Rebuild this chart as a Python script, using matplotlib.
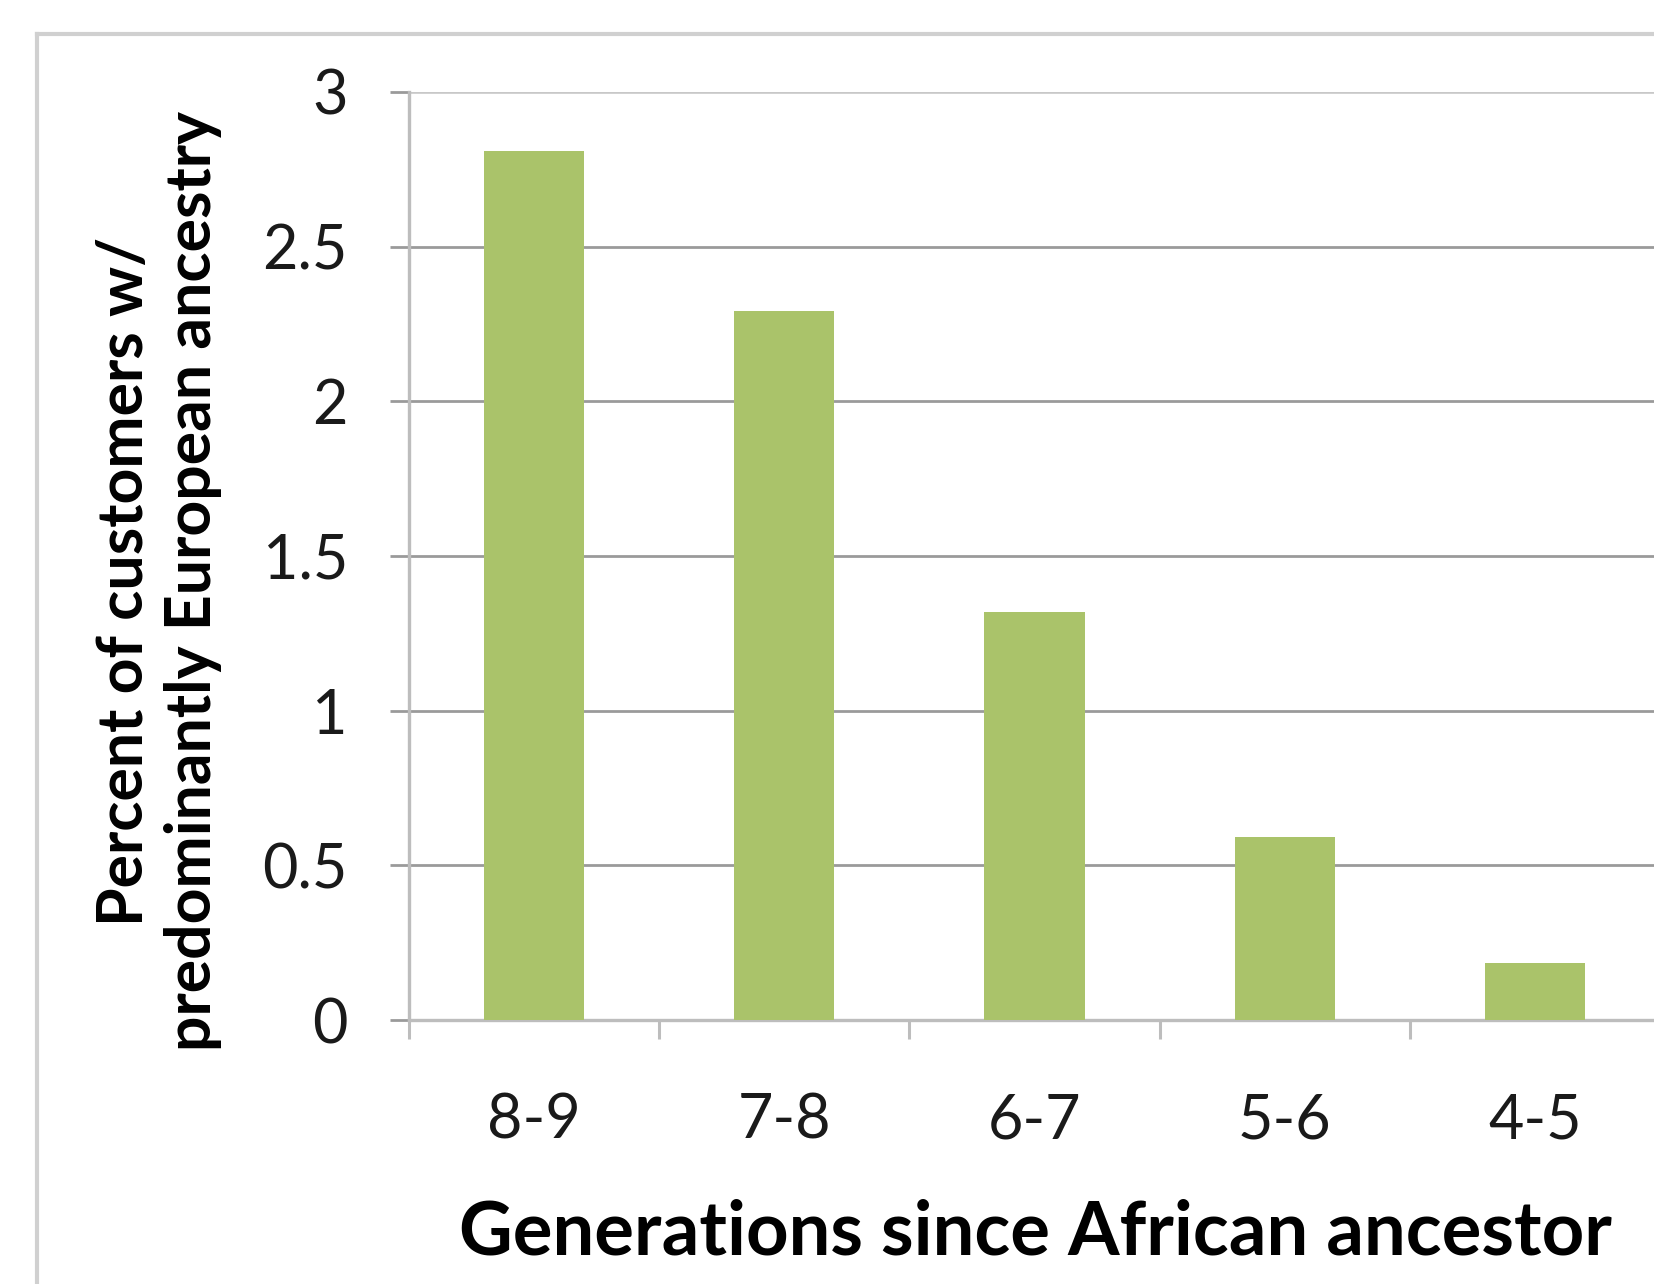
import matplotlib
matplotlib.use("Agg")
import matplotlib.pyplot as plt
from matplotlib.lines import Line2D

generations = ["8-9", "7-8", "6-7", "5-6", "4-5"]
percent = [2.81, 2.29, 1.32, 0.59, 0.184]
y_ticks = [0, 0.5, 1, 1.5, 2, 2.5, 3]
y_tick_labels = ["0", "0.5", "1", "1.5", "2", "2.5", "3"]

plt.rcParams["font.family"] = ["Lato", "DejaVu Sans"]

fig = plt.figure(figsize=(16.54, 12.84), dpi=100)
ax = fig.add_axes([0.2473, 0.2056, 1.0036 - 0.2473, 0.9285 - 0.2056])

centers = [i + 0.5 for i in range(len(generations))]
ax.bar(centers, percent, width=0.4, color="#aac36a", zorder=3)

ax.set_xlim(0, 5)
ax.set_ylim(0, 3)

# gridlines
ax.set_yticks(y_ticks)
ax.set_yticklabels(y_tick_labels, fontsize=44, color="#1a1a1a")
ax.yaxis.grid(True, color="#9a9a9a", linewidth=2.0, zorder=0)
ax.set_axisbelow(True)
ax.get_ygridlines()[-1].set_color("#c8c8c8")
ax.get_ygridlines()[-1].set_linewidth(2.6)

# category ticks between groups, labels at centers
ax.set_xticks(range(len(generations) + 1))
ax.set_xticklabels([])
ax.set_xticks(centers, minor=True)
ax.set_xticklabels(generations, minor=True, fontsize=44, color="#1a1a1a")
ax.tick_params(axis="x", which="major", length=14, width=2.2, color="#bdbdbd", direction="out")
ax.tick_params(axis="x", which="minor", length=0, pad=52)
ax.tick_params(axis="y", length=14, width=2.0, color="#9a9a9a", pad=30)

for side in ["top", "right"]:
    ax.spines[side].set_visible(False)
for side in ["left", "bottom"]:
    ax.spines[side].set_color("#bdbdbd")
    ax.spines[side].set_linewidth(2.4)

ax.set_xlabel("Generations since African ancestor", fontsize=53.5, fontweight="bold")
ax.xaxis.set_label_coords(0.501, -0.23)
ax.xaxis.label.set_va("center")

ax.set_ylabel("Percent of customers w/\npredominantly European ancestry",
              fontsize=45, fontweight="bold", linespacing=1.22)
ax.yaxis.set_label_coords(-0.2, 0.473)
ax.yaxis.label.set_va("center")

# outer chart frame (cropped at right and bottom)
fig.add_artist(Line2D([0.0224, 0.0224], [0, 0.9735], color="#d0d0d0", linewidth=3, transform=fig.transFigure))
fig.add_artist(Line2D([0.0224, 1.0], [0.9735, 0.9735], color="#d0d0d0", linewidth=3, transform=fig.transFigure))

fig.savefig("out.png", dpi=100)
